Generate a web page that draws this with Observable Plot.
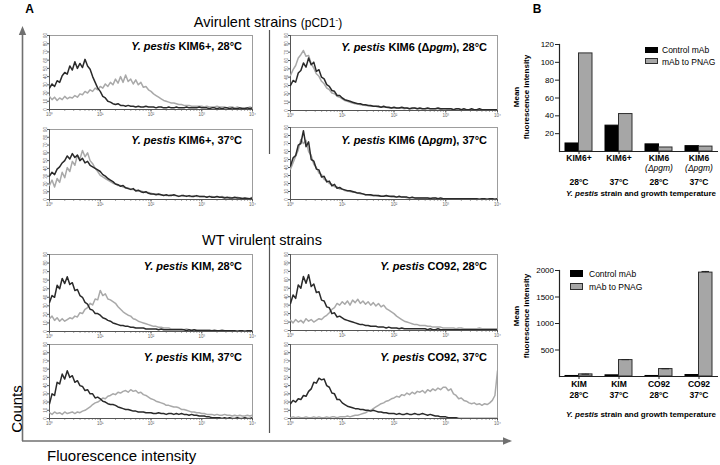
<!DOCTYPE html>
<html><head><meta charset="utf-8">
<script src="https://cdn.jsdelivr.net/npm/d3@7"></script>
<script src="https://cdn.jsdelivr.net/npm/@observablehq/plot@0.6"></script>
<style>
body{margin:0;background:#fff;}
#fig{position:relative;width:720px;height:465px;overflow:hidden;font-family:"Liberation Sans",Arial,sans-serif;color:#000;background:#fff;}
.t{position:absolute;white-space:nowrap;line-height:1;}
</style></head><body><div id="fig"></div>
<script>
// ---------- Panel A: flow-cytometry histograms (x = log10 fluorescence channel) ----------
const binExp = [0,0.05,0.1,0.15,0.2,0.25,0.3,0.35,0.4,0.45,
 0.5,0.55,0.6,0.65,0.7,0.75,0.8,0.85,0.9,0.95,
 1,1.05,1.1,1.15,1.2,1.25,1.3,1.35,1.4,1.45,
 1.5,1.55,1.6,1.65,1.7,1.75,1.8,1.85,1.9,1.95,
 2,2.05,2.1,2.15,2.2,2.25,2.3,2.35,2.4,2.45,
 2.5,2.55,2.6,2.65,2.7,2.75,2.8,2.85,2.9,2.95,
 3,3.05,3.1,3.15,3.2,3.25,3.3,3.35,3.4,3.45,
 3.5,3.55,3.6,3.65,3.7,3.75,3.8,3.85,3.9,3.95,
 4];
const decadeTicks = [1, 10, 100, 1000, 10000];
const decadeLabels = ["10\u2070","10\u00b9","10\u00b2","10\u00b3","10\u2074"];
const countTicks = [0,10,20,30,40,50,60,70,80,90];

// Y. pestis KIM6+, 28°C
const kim6p28Ctrl = [26,31,28,35,33,41,45,43,53,48, 58,50,56,51,61,53,49,40,33,26, 22,16,14,10,9,7,6,7,5,5, 4,5,4,4,3,4,3,3,4,3, 3,3,2,3,3,2,2,3,2,2, 3,2,2,2,3,2,2,2,2,3, 2,2,2,1,2,2,1,2,1,2, 2,1,2,1,1,2,1,1,2,1, 2];
const kim6p28Pnag = [16,12,15,11,14,12,16,13,15,14, 17,15,19,18,22,20,24,22,26,24, 28,26,31,28,33,30,37,32,40,33, 42,34,37,31,36,30,33,27,28,24, 22,19,17,15,13,11,10,9,8,8, 7,6,6,5,5,5,4,4,4,4, 4,3,4,3,3,3,4,3,3,3, 2,3,3,2,3,2,2,2,2,3, 2];
// Y. pestis KIM6+, 37°C
const kim6p37Ctrl = [30,35,32,39,42,47,50,56,52,59, 54,57,50,53,47,49,44,42,40,38, 36,32,30,27,25,23,20,19,17,18, 15,14,13,14,11,12,10,9,10,8, 7,7,6,7,6,5,6,5,5,6, 5,4,5,5,4,5,4,4,5,4, 4,4,3,4,3,3,4,3,3,2, 3,2,2,3,2,2,1,2,1,1, 2];
const kim6p37Pnag = [18,25,16,27,22,35,28,41,36,49, 44,57,52,63,55,60,50,46,40,36, 31,29,27,25,23,21,20,18,18,16, 15,15,13,13,12,11,11,10,9,9, 8,7,7,6,6,6,5,5,6,5, 5,4,5,4,5,4,4,5,4,4, 4,4,3,4,4,3,3,3,4,3, 2,3,2,2,3,2,2,1,2,1, 3];
// Y. pestis KIM6 (Δpgm), 28°C
const pgm28Ctrl = [30,36,34,45,48,57,52,63,55,58, 47,49,40,38,31,29,24,23,18,18, 15,13,12,11,10,9,8,8,7,7, 6,6,5,5,5,4,5,4,4,3, 4,3,3,4,3,3,2,3,3,2, 3,2,2,3,2,2,2,3,2,2, 2,2,2,1,2,2,1,2,1,1, 2,1,1,2,1,1,1,1,1,1, 1];
const pgm28Pnag = [42,49,54,63,67,72,65,66,56,51, 44,41,35,32,27,25,21,20,17,16, 14,12,11,10,9,8,8,7,7,6, 6,5,5,5,4,4,4,4,3,3, 3,3,3,3,2,3,2,2,3,2, 2,2,2,2,2,2,2,2,1,2, 2,1,2,1,1,2,1,1,1,1, 1,1,1,1,1,1,1,1,1,1, 1];
// Y. pestis KIM6 (Δpgm), 37°C
const pgm37Ctrl = [42,52,55,68,70,86,66,72,50,48, 38,37,28,29,22,23,17,19,14,15, 13,12,11,11,10,9,8,8,7,6, 6,6,5,5,5,4,4,5,4,4, 4,3,4,3,3,3,2,3,2,2, 2,2,2,2,1,2,2,1,2,1, 1,1,1,1,1,1,1,1,1,1, 1,1,1,0,1,1,0,1,1,0, 1];
const pgm37Pnag = [38,46,54,62,75,70,74,60,55,44, 40,33,31,25,24,20,19,16,16,13, 13,11,11,10,9,9,8,7,7,6, 6,5,5,5,4,4,4,4,4,3, 3,3,3,3,3,2,2,2,2,2, 2,2,2,2,2,1,2,1,1,1, 1,1,1,1,1,1,1,1,1,1, 1,1,1,1,1,1,1,1,1,1, 1];
// Y. pestis KIM, 28°C
const kim28Ctrl = [34,42,40,54,50,62,56,64,55,57, 48,49,42,40,34,32,26,25,21,21, 19,16,15,13,12,10,9,8,7,7, 6,6,5,5,4,4,4,4,3,3, 3,3,3,2,3,2,2,2,2,2, 2,2,2,2,1,2,1,2,1,1, 1,1,1,1,1,1,1,1,1,1, 1,1,1,1,0,1,1,0,1,1, 1];
const kim28Pnag = [15,18,13,16,12,15,12,14,16,15, 18,17,22,21,26,28,33,31,38,37, 48,42,44,38,37,35,33,29,26,23, 21,19,18,15,14,12,11,10,9,8, 7,6,6,5,5,4,4,4,3,3, 3,3,3,2,3,2,2,2,2,2, 2,2,2,2,1,2,1,1,2,1, 1,1,1,1,1,1,1,1,1,1, 1];
// Y. pestis KIM, 37°C
const kim37Ctrl = [18,30,28,44,42,54,48,58,50,52, 44,46,40,39,34,35,30,30,25,26, 24,21,20,18,17,17,16,14,13,12, 11,11,10,9,9,8,8,8,7,7, 7,6,6,7,6,6,5,6,6,5, 6,5,6,5,5,4,5,4,4,3, 3,3,2,2,1,1,1,1,0,1, 0,1,0,0,1,0,0,1,0,0, 1];
const kim37Pnag = [7,5,8,6,7,5,8,6,7,8, 6,8,7,9,10,12,14,17,19,20, 22,25,24,27,28,30,29,32,31,33, 34,32,35,33,34,31,32,29,28,26, 24,23,21,20,19,18,16,16,15,14, 14,13,11,11,10,9,8,8,7,7, 6,6,5,5,5,4,5,4,4,5, 4,4,3,4,3,4,3,3,4,3, 4];
// Y. pestis CO92, 28°C
const co9228Ctrl = [32,42,38,54,50,64,56,66,52,55, 45,46,36,35,28,27,20,21,16,17, 15,13,12,11,10,9,8,7,7,6, 6,5,5,5,4,4,4,3,4,3, 3,3,2,3,2,2,2,2,2,2, 2,2,2,1,2,1,1,2,1,1, 1,1,1,1,1,1,1,1,1,1, 1,1,1,1,1,1,1,1,1,1, 1];
const co9228Pnag = [12,9,13,10,12,9,14,11,13,10, 12,14,13,16,18,21,25,27,32,30, 34,31,35,30,36,33,37,32,35,31, 34,30,33,29,32,28,30,26,24,22, 20,17,15,13,11,10,9,8,7,7, 6,6,6,5,5,4,4,4,4,3, 3,3,3,3,2,3,3,2,2,2, 2,2,2,3,2,2,2,2,2,2, 2];
// Y. pestis CO92, 37°C
const co9237Ctrl = [18,22,20,24,23,28,27,33,36,44, 43,49,47,48,40,38,31,30,23,23, 19,17,15,14,13,12,12,11,11,10, 10,9,10,9,8,8,7,7,6,6, 6,5,6,5,5,6,5,5,6,5, 5,6,5,4,5,4,3,3,2,2, 2,1,1,1,1,0,0,0,0,0, 0,0,0,0,0,0,0,0,0,0, 0];
const co9237Pnag = [1,2,1,2,1,1,2,1,1,2, 1,2,1,1,2,1,2,2,1,2, 2,2,3,2,3,4,4,5,6,7, 9,10,12,14,16,18,19,21,22,24, 25,27,26,29,28,31,29,32,30,33, 32,34,31,35,33,36,34,37,35,38, 38,34,36,30,28,24,25,22,21,19, 18,19,17,18,16,18,17,19,22,28, 58];

// ---------- Panel B: mean fluorescence intensity bar charts ----------
const topGroups = ["KIM6+ 28", "KIM6+ 37", "KIM6 28", "KIM6 37"];
const topStrain = ["KIM6+", "KIM6+", "KIM6", "KIM6"];
const topMutant = ["", "", "(\u0394pgm)", "(\u0394pgm)"];
const topTemp = ["28\u00b0C", "37\u00b0C", "28\u00b0C", "37\u00b0C"];
const topControl = [9, 29, 8, 6];
const topPnag = [110, 42, 4.5, 5.5];
const topTicks = [20, 40, 60, 80, 100, 120];

const botGroups = ["KIM 28", "KIM 37", "CO92 28", "CO92 37"];
const botStrain = ["KIM", "KIM", "CO92", "CO92"];
const botTemp = ["28\u00b0C", "37\u00b0C", "28\u00b0C", "37\u00b0C"];
const botControl = [10, 22, 10, 28];
const botPnag = [40, 310, 140, 1960];
const botPnagErr = [4, 8, 6, 22];
const botTicks = [500, 1000, 1500, 2000];

// ---------- layout helpers ----------
const FONT = '"Liberation Sans", Arial, sans-serif';
const fig = document.getElementById("fig");
function place(el, left, top) {
  el.style.position = "absolute";
  el.style.left = left + "px";
  el.style.top = top + "px";
  fig.appendChild(el);
}
function label(html, x, y, o = {}) {
  const d = document.createElement("div");
  d.className = "t";
  d.innerHTML = html;
  d.style.fontSize = (o.size || 11) + "px";
  if (o.weight) d.style.fontWeight = o.weight;
  if (o.style) d.style.fontStyle = o.style;
  const a = o.anchor || "middle";
  const tx = a === "start" ? "0" : a === "end" ? "-100%" : "-50%";
  d.style.left = x + "px";
  d.style.top = y + "px";
  d.style.transform = `translate(${tx},-50%)` + (o.rotate ? ` rotate(${o.rotate}deg)` : "");
  fig.appendChild(d);
}
function swatch(x, y, w, h, fill, stroke) {
  const d = document.createElement("div");
  d.style.cssText = `position:absolute;left:${x}px;top:${y}px;width:${w}px;height:${h}px;background:${fill};box-sizing:border-box;border:1px solid ${stroke};`;
  fig.appendChild(d);
}

// decorative frame of panel A (big axis arrows and dividers)
const deco = document.createElementNS("http://www.w3.org/2000/svg", "svg");
deco.setAttribute("width", 720); deco.setAttribute("height", 465);
deco.innerHTML = `
 <line x1="22.5" y1="441" x2="22.5" y2="33" stroke="#707070" stroke-width="1.6"/>
 <polygon points="22.5,26 18.8,35 26.2,35" fill="#707070"/>
 <line x1="22" y1="441" x2="504" y2="441" stroke="#707070" stroke-width="1.6"/>
 <polygon points="512,441 503,437.3 503,444.7" fill="#707070"/>
 <line x1="269.5" y1="30" x2="269.5" y2="154" stroke="#555" stroke-width="1.2"/>
 <line x1="269.5" y1="243" x2="269.5" y2="433" stroke="#555" stroke-width="1.2"/>`;
place(deco, 0, 0);

// ---------- histograms ----------
const HM = {l: 12, r: 2, t: 2, b: 9};
function histogram(p) {
  const rows = binExp.map((e, i) => ({x: Math.pow(10, e), c: p.ctrl[i], g: p.pnag[i]}));
  const svg = Plot.plot({
    width: p.x1 - p.x0 + HM.l + HM.r,
    height: p.y1 - p.y0 + HM.t + HM.b,
    marginLeft: HM.l, marginRight: HM.r, marginTop: HM.t, marginBottom: HM.b,
    style: {background: "transparent", overflow: "visible", fontFamily: FONT},
    x: {type: "log", domain: [1, 10000]},
    y: {domain: [0, 90]},
    marks: [
      Plot.frame({stroke: "#9d9d9d", strokeWidth: 1}),
      Plot.axisX({ticks: 36, tickFormat: () => "", tickSize: 1.5, stroke: "#555", label: null}),
      Plot.axisX({ticks: decadeTicks, tickFormat: d => decadeLabels[decadeTicks.indexOf(d)], tickSize: 2.5, tickPadding: 0.5, fontSize: 4.5, fill: "#666", stroke: "#555", label: null}),
      Plot.axisY({ticks: countTicks, tickSize: 2, tickPadding: 0.5, fontSize: 4.5, tickRotate: -90, fill: "#666", stroke: "#555", label: null}),
      Plot.ruleX([1], {stroke: "#555"}),
      Plot.ruleY([0], {stroke: "#555"}),
      Plot.line(rows, {x: "x", y: "g", stroke: "#a9a9a9", strokeWidth: 1.5, clip: true}),
      Plot.line(rows, {x: "x", y: "c", stroke: "#2a2a2a", strokeWidth: 1.5, clip: true})
    ]
  });
  place(svg, p.x0 - HM.l, p.y0 - HM.t);
}
const L = [49, 252], R = [290, 497];
const panels = [
  {x0: L[0], x1: L[1], y0: 35, y1: 109, ctrl: kim6p28Ctrl, pnag: kim6p28Pnag, ty: 46, txt: "<i>Y. pestis</i> KIM6+, 28°C"},
  {x0: L[0], x1: L[1], y0: 129, y1: 199, ctrl: kim6p37Ctrl, pnag: kim6p37Pnag, ty: 140, txt: "<i>Y. pestis</i> KIM6+, 37°C"},
  {x0: R[0], x1: R[1], y0: 35, y1: 110, ctrl: pgm28Ctrl, pnag: pgm28Pnag, ty: 47, txt: "<i>Y. pestis</i> KIM6 (\u0394<i>pgm</i>), 28°C"},
  {x0: R[0], x1: R[1], y0: 127, y1: 199, ctrl: pgm37Ctrl, pnag: pgm37Pnag, ty: 140, txt: "<i>Y. pestis</i> KIM6 (\u0394<i>pgm</i>), 37°C"},
  {x0: L[0], x1: L[1], y0: 254, y1: 331, ctrl: kim28Ctrl, pnag: kim28Pnag, ty: 266, txt: "<i>Y. pestis</i> KIM, 28°C"},
  {x0: L[0], x1: L[1], y0: 344, y1: 418, ctrl: kim37Ctrl, pnag: kim37Pnag, ty: 357, txt: "<i>Y. pestis</i> KIM, 37°C"},
  {x0: R[0], x1: R[1], y0: 254, y1: 330, ctrl: co9228Ctrl, pnag: co9228Pnag, ty: 266, txt: "<i>Y. pestis</i> CO92, 28°C"},
  {x0: R[0], x1: R[1], y0: 344, y1: 418, ctrl: co9237Ctrl, pnag: co9237Pnag, ty: 357, txt: "<i>Y. pestis</i> CO92, 37°C"}
];
panels.forEach(histogram);

// ---------- bar charts ----------
function barChart(c) {
  const rows = c.groups.map((g, i) => ({
    g, ctrl: c.ctrl[i], pnag: c.pnag[i], err: c.err ? c.err[i] : 0,
    strain: c.strain[i], mutant: c.mutant ? c.mutant[i] : "", temp: c.temp[i]
  }));
  const marks = [
    Plot.barY(rows, {x: "g", y: "ctrl", fill: "#000", stroke: "#000", strokeWidth: 1, insetRight: 13.5}),
    Plot.barY(rows, {x: "g", y: "pnag", fill: "#a6a6a6", stroke: "#2e2e2e", strokeWidth: 1, insetLeft: 13.5}),
    Plot.frame({anchor: "left", stroke: "#222", strokeWidth: 1.2}),
    Plot.ruleY([0], {stroke: "#222", strokeWidth: 1.2}),
    Plot.axisY({ticks: c.ticks, tickFormat: d => String(d), tickSize: 4, tickPadding: 1.5, fontSize: 8, stroke: "#222", label: null}),
    Plot.axisX({tickSize: 3, tickFormat: () => "", stroke: "#222", label: null}),
    Plot.text(rows, {x: "g", text: "strain", frameAnchor: "bottom", dy: c.dyStrain, fontSize: 8.5, fontWeight: "bold"}),
    Plot.text(rows, {x: "g", text: "temp", frameAnchor: "bottom", dy: c.dyTemp, fontSize: 8.5, fontWeight: "bold"})
  ];
  if (c.mutant) marks.push(Plot.text(rows, {x: "g", text: "mutant", frameAnchor: "bottom", dy: c.dyMutant, fontSize: 8.5, fontStyle: "italic"}));
  if (c.err) {
    marks.push(Plot.ruleX(rows, {x: "g", y1: d => d.pnag, y2: d => d.pnag + d.err, dx: 6.75, stroke: "#222"}));
    marks.push(Plot.tickY(rows, {x: "g", y: d => d.pnag + d.err, insetLeft: 16.5, insetRight: 3, stroke: "#222"}));
  }
  const svg = Plot.plot({
    width: 200, height: c.height,
    marginLeft: 39, marginRight: 2, marginTop: c.mt, marginBottom: c.mb,
    style: {background: "transparent", overflow: "visible", fontFamily: FONT, color: "#000"},
    x: {domain: c.groups, paddingInner: 0.325, paddingOuter: 0.15},
    y: {domain: c.ydomain},
    marks
  });
  place(svg, 520, c.top);
}
barChart({groups: topGroups, ctrl: topControl, pnag: topPnag, strain: topStrain, mutant: topMutant, temp: topTemp,
  ticks: topTicks, ydomain: [0, 120], top: 30, mt: 14, mb: 45, height: 14 + 107 + 45, dyStrain: 9, dyMutant: 19, dyTemp: 33});
barChart({groups: botGroups, ctrl: botControl, pnag: botPnag, err: botPnagErr, strain: botStrain, temp: botTemp,
  ticks: botTicks, ydomain: [0, 2000], top: 255, mt: 15, mb: 30, height: 15 + 106 + 30, dyStrain: 10, dyTemp: 21});

// ---------- text ----------
label("A", 29.5, 8.5, {size: 12, weight: "bold"});
label("B", 537, 8.5, {size: 12, weight: "bold"});
label('Avirulent strains <span style="font-size:12px">(pCD1<span style="font-size:8px;position:relative;top:-5px">-</span>)</span>', 268, 22, {size: 14.5});
label("WT virulent strains", 262, 240, {size: 14.5});
label("Counts", 16, 409, {size: 15, rotate: -90});
label("Fluorescence intensity", 47, 455, {size: 15, anchor: "start"});
panels.forEach(p => label(p.txt, p.x1 - 10, p.ty, {size: 11, weight: "bold", anchor: "end"}));

label("Mean", 517, 97, {size: 8, weight: "bold", rotate: -90});
label("fluorescence intensity", 527, 97, {size: 8, weight: "bold", rotate: -90});
label("Mean", 517, 316, {size: 8, weight: "bold", rotate: -90});
label("fluorescence intensity", 527, 316, {size: 8, weight: "bold", rotate: -90});
label("<i>Y. pestis</i> strain and growth temperature", 641, 194, {size: 8, weight: "bold"});
label("<i>Y. pestis</i> strain and growth temperature", 641, 415, {size: 8, weight: "bold"});

swatch(645, 47, 13, 6, "#000", "#000");
swatch(645, 58, 13, 6, "#a6a6a6", "#2e2e2e");
label("Control mAb", 662, 50, {size: 8.5, anchor: "start"});
label("mAb to PNAG", 662, 61.5, {size: 8.5, anchor: "start"});
swatch(570, 270, 13, 7, "#000", "#000");
swatch(570, 283, 13, 7, "#a6a6a6", "#2e2e2e");
label("Control mAb", 589, 273.5, {size: 8.5, anchor: "start"});
label("mAb to PNAG", 589, 286.5, {size: 8.5, anchor: "start"});
</script></body></html>
